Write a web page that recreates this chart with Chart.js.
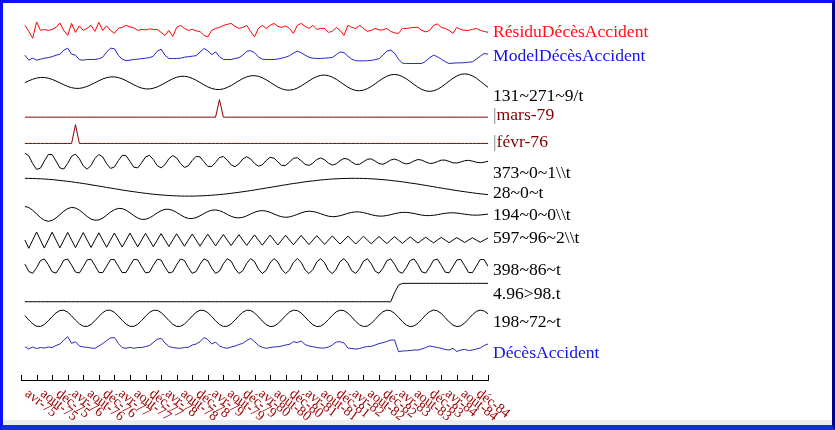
<!DOCTYPE html>
<html>
<head>
<meta charset="utf-8">
<script src="https://cdn.jsdelivr.net/npm/chart.js@4"></script>
<style>
  body { margin: 0; background: #fff; }
  #wrap { position: relative; width: 835px; height: 430px; overflow: hidden; }
  #chart { position: absolute; left: 0; top: 0; }
  #strip { position: absolute; left: 3px; right: 3px; bottom: 5px; height: 5px; background: #ececec; }
  #frame { position: absolute; left: 0; top: 0; width: 835px; height: 430px; box-sizing: border-box; pointer-events: none;
    border-left: 3px solid #1010f8; border-top: 3px solid #1010e8; border-right: 3px solid #00008b; border-bottom: 5px solid #1030d0; }
</style>
</head>
<body>
<div id="wrap">
  <canvas id="chart" width="835" height="430"></canvas>
  <div id="strip"></div>
  <div id="frame"></div>
</div>
<script>
// Series names, top to bottom (shown at the right end of each band)
const seriesNames = ['RésiduDécèsAccident', 'ModelDécèsAccident', '131~271~9/t', '|mars-79', '|févr-76',
  '373~0~1\\\\t', '28~0~t', '194~0~0\\\\t', '597~96~2\\\\t', '398~86~t', '4.96>98.t', '198~72~t', 'DécèsAccident'];

// x axis tick labels (every 4 months, first one on avr-75)
const tickLabels = ['avr-75', 'août-75', 'déc-75', 'avr-76', 'août-76', 'déc-76', 'avr-77', 'août-77', 'déc-77',
  'avr-78', 'août-78', 'déc-78', 'avr-79', 'août-79', 'déc-79', 'avr-80', 'août-80', 'déc-80',
  'avr-81', 'août-81', 'déc-81', 'avr-82', 'août-82', 'déc-82', 'avr-83', 'août-83', 'déc-83',
  'avr-84', 'août-84', 'déc-84'];

// monthly values, janv-75 .. déc-84
const residu = [15.2, 9, 2.2, 18.5, 10, 11, 10, 11, 13, 17.5,
  10, 5, 17, 8, 14.5, 10, 12, 15, 9, 18,
  10, 14.5, 10, 7, 12, 13, 15, 13.5, 12.5, 10,
  11, 10.5, 11.5, 11, 11, 8, 5, 10, 4, 13,
  15, 12, 10, 11, 9.5, 9, 5, 3.5, 10, 12,
  13, 15, 16, 17, 14, 12, 13, 15, 9, 3.5,
  12, 15, 12, 15, 17, 14, 13, 14.5, 12, 7,
  15, 17, 14, 12, 15, 11, 12, 12, 8, 9,
  13, 10, 5, 15, 13, 12, 15, 12, 9, 10,
  12, 10.5, 10.5, 12, 9, 7.5, 7, 12, 12, 12.5,
  13, 13, 10, 8.5, 10, 15, 16.5, 13, 12, 10,
  7, 13, 11, 10, 10, 11, 12, 10, 9, 8];

const modele = [11.6, 6.6, 8.6, 6.6, 7.6, 8.6, 9.1, 10.1, 11.6, 12.6,
  16.6, 18.6, 12.6, 11.6, 7.1, 6.6, 7.3, 7.3, 7.3, 8.1,
  9.6, 14.6, 18.6, 18.1, 11.6, 7.6, 6.1, 6.6, 7.3, 7.6,
  8.1, 8.6, 9.1, 10.6, 15.6, 17.6, 11.6, 8.3, 8.3, 8.3,
  8.6, 9.6, 10.1, 10.6, 11.1, 14.6, 18.3, 16.1, 12.1, 14.9,
  10.1, 7.3, 7.3, 7.3, 8.3, 9.1, 11.6, 15.6, 16.1, 14.1,
  9.9, 7.6, 7.3, 7.3, 7.3, 7.8, 8.6, 9.6, 11.1, 13.6,
  15.6, 14.1, 11.6, 9.6, 8.6, 8.3, 8.3, 8.6, 8.9, 9.3,
  12.1, 14.9, 14.1, 10.6, 7.6, 6.1, 5.9, 5.9, 6.1, 6.4,
  7.1, 8.1, 11.6, 15.6, 16.6, 13.6, 7.6, 3.6, 3.3, 3.3,
  3.3, 3.3, 3.3, 5.6, 9.1, 11.6, 10.1, 7.6, 5.1, 3.3,
  3.6, 3.9, 3.9, 4.1, 4.6, 4.9, 7.6, 10.6, 13.3, 12.6];

const comp131 = [0.2, 2.0, 3.5, 4.7, 5.3, 5.3, 4.6, 3.4, 1.7, -0.1,
  -2.0, -3.7, -4.9, -5.6, -5.6, -4.9, -3.6, -1.9, 0.1, 2.0,
  3.8, 5.1, 5.8, 5.9, 5.2, 3.9, 2.1, 0.1, -2.0, -3.9,
  -5.3, -6.1, -6.2, -5.5, -4.2, -2.3, -0.2, 2.0, 4.0, 5.5,
  6.4, 6.5, 5.8, 4.4, 2.5, 0.3, -2.0, -4.1, -5.7, -6.6,
  -6.8, -6.1, -4.7, -2.8, -0.4, 2.0, 4.2, 5.9, 6.9, 7.1,
  6.5, 5.0, 3.0, 0.6, -2.0, -4.3, -6.1, -7.2, -7.4, -6.8,
  -5.3, -3.2, -0.7, 1.9, 4.3, 6.2, 7.4, 7.7, 7.1, 5.6,
  3.5, 0.9, -1.8, -4.4, -6.4, -7.7, -8.0, -7.4, -5.9, -3.7,
  -1.1, 1.8, 4.4, 6.5, 7.9, 8.3, 7.8, 6.2, 4.0, 1.2,
  -1.7, -4.4, -6.7, -8.1, -8.6, -8.1, -6.6, -4.3, -1.4, 1.6,
  4.5, 6.8, 8.4, 8.9, 8.4, 6.9, 4.6, 1.6, -1.5, -4.5];

const mars79 = [0, 0, 0, 0, 0, 0, 0, 0, 0, 0,
  0, 0, 0, 0, 0, 0, 0, 0, 0, 0,
  0, 0, 0, 0, 0, 0, 0, 0, 0, 0,
  0, 0, 0, 0, 0, 0, 0, 0, 0, 0,
  0, 0, 0, 0, 0, 0, 0, 0, 0, 0,
  1, 0, 0, 0, 0, 0, 0, 0, 0, 0,
  0, 0, 0, 0, 0, 0, 0, 0, 0, 0,
  0, 0, 0, 0, 0, 0, 0, 0, 0, 0,
  0, 0, 0, 0, 0, 0, 0, 0, 0, 0,
  0, 0, 0, 0, 0, 0, 0, 0, 0, 0,
  0, 0, 0, 0, 0, 0, 0, 0, 0, 0,
  0, 0, 0, 0, 0, 0, 0, 0, 0, 0];

const fevr76 = [0, 0, 0, 0, 0, 0, 0, 0, 0, 0,
  0, 0, 0, 1, 0, 0, 0, 0, 0, 0,
  0, 0, 0, 0, 0, 0, 0, 0, 0, 0,
  0, 0, 0, 0, 0, 0, 0, 0, 0, 0,
  0, 0, 0, 0, 0, 0, 0, 0, 0, 0,
  0, 0, 0, 0, 0, 0, 0, 0, 0, 0,
  0, 0, 0, 0, 0, 0, 0, 0, 0, 0,
  0, 0, 0, 0, 0, 0, 0, 0, 0, 0,
  0, 0, 0, 0, 0, 0, 0, 0, 0, 0,
  0, 0, 0, 0, 0, 0, 0, 0, 0, 0,
  0, 0, 0, 0, 0, 0, 0, 0, 0, 0,
  0, 0, 0, 0, 0, 0, 0, 0, 0, 0];

const comp373 = [8.4, 5.8, -2.0, -7.8, -6.5, 0.6, 7.1, 7.1, 0.6, -6.3,
  -7.4, -1.8, 5.3, 7.5, 2.9, -4.3, -7.5, -3.9, 3.2, 7.2,
  4.7, -2.0, -6.8, -5.4, 0.9, 6.3, 5.9, 0.2, -5.6, -6.2,
  -1.2, 4.7, 6.3, 2.1, -3.9, -6.3, -3.0, 2.9, 6.1, 3.7,
  -2.0, -5.8, -4.2, 1.1, 5.3, 4.7, -0.1, -4.7, -4.9, -0.7,
  4.1, 5.1, 1.5, -3.3, -5.1, -2.2, 2.6, 4.9, 2.7, -1.8,
  -4.6, -3.2, 1.1, 4.3, 3.5, -0.3, -3.8, -3.8, -0.3, 3.3,
  3.9, 0.9, -2.7, -3.8, -1.5, 2.1, 3.7, 1.9, -1.5, -3.5,
  -2.2, 1.0, 3.2, 2.5, -0.4, -2.8, -2.6, -0.1, 2.4, 2.7,
  0.5, -2.0, -2.6, -0.9, 1.6, 2.5, 1.2, -1.1, -2.3, -1.4,
  0.7, 2.1, 1.5, -0.4, -1.8, -1.5, 0.0, 1.5, 1.5, 0.2,
  -1.2, -1.4, -0.4, 0.9, 1.3, 0.5, -0.6, -1.1, -0.6, 0.4];

const comp28 = [8.9, 8.85, 8.75, 8.6, 8.4, 8.2, 7.9, 7.6, 7.2, 6.8,
  6.3, 5.9, 5.4, 4.8, 4.3, 3.7, 3.1, 2.4, 1.8, 1.1,
  0.5, -0.2, -0.8, -1.5, -2.1, -2.8, -3.4, -4.0, -4.5, -5.1,
  -5.6, -6.1, -6.6, -7.0, -7.4, -7.7, -8.0, -8.3, -8.5, -8.7,
  -8.8, -8.9, -8.9, -8.9, -8.8, -8.7, -8.5, -8.3, -8.0, -7.7,
  -7.4, -7.0, -6.6, -6.1, -5.6, -5.1, -4.5, -4.0, -3.4, -2.8,
  -2.1, -1.5, -0.8, -0.2, 0.5, 1.1, 1.8, 2.4, 3.1, 3.7,
  4.2, 4.8, 5.4, 5.9, 6.3, 6.8, 7.2, 7.6, 7.9, 8.2,
  8.4, 8.6, 8.75, 8.85, 8.9, 8.9, 8.85, 8.75, 8.6, 8.4,
  8.2, 7.9, 7.6, 7.2, 6.8, 6.3, 5.9, 5.4, 4.8, 4.2,
  3.7, 3.1, 2.4, 1.8, 1.1, 0.5, -0.2, -0.8, -1.5, -2.1,
  -2.8, -3.4, -4.0, -4.5, -5.1, -5.6, -6.1, -6.6, -7.0, -7.4];

const comp194 = [7.6, 6.6, 3.8, 0.2, -3.4, -6.1, -7.2, -6.4, -3.9, -0.5,
  2.9, 5.5, 6.7, 6.1, 4.0, 0.9, -2.4, -5.0, -6.2, -5.8,
  -4.0, -1.1, 2.0, 4.4, 5.7, 5.5, 3.9, 1.3, -1.5, -3.9,
  -5.3, -5.2, -3.8, -1.5, 1.2, 3.4, 4.8, 4.8, 3.7, 1.6,
  -0.8, -3.0, -4.3, -4.5, -3.5, -1.7, 0.5, 2.6, 3.9, 4.2,
  3.4, 1.8, -0.3, -2.2, -3.5, -3.8, -3.2, -1.8, 0.1, 1.8,
  3.0, 3.5, 3.0, 1.8, 0.1, -1.5, -2.7, -3.2, -2.8, -1.7,
  -0.3, 1.2, 2.4, 2.9, 2.6, 1.7, 0.4, -1.0, -2.1, -2.6,
  -2.4, -1.6, -0.5, 0.8, 1.7, 2.2, 2.2, 1.5, 0.5, -0.6,
  -1.5, -2.0, -2.0, -1.4, -0.6, 0.4, 1.2, 1.7, 1.7, 1.3,
  0.6, -0.3, -1.0, -1.5, -1.5, -1.2, -0.6, 0.2, 0.8, 1.2,
  1.3, 1.0, 0.5, -0.1, -0.6, -1.0, -1.1, -0.9, -0.5, 0.0];

const comp597 = [0, -8.2, 0, 8.1, 0, -8.0, 0, 7.9, 0, -7.8,
  0, 7.7, 0, -7.6, 0, 7.5, 0, -7.4, 0, 7.3,
  0, -7.2, 0, 7.1, 0, -7.0, 0, 6.9, 0, -6.8,
  0, 6.7, 0, -6.6, 0, 6.5, 0, -6.4, 0, 6.3,
  0, -6.2, 0, 6.1, 0, -6.0, 0, 5.9, 0, -5.8,
  0, 5.6, 0, -5.5, 0, 5.4, 0, -5.3, 0, 5.2,
  0, -5.1, 0, 5.0, 0, -4.9, 0, 4.8, 0, -4.7,
  0, 4.6, 0, -4.5, 0, 4.4, 0, -4.3, 0, 4.2,
  0, -4.1, 0, 4.0, 0, -3.9, 0, 3.8, 0, -3.7,
  0, 3.6, 0, -3.5, 0, 3.4, 0, -3.3, 0, 3.2,
  0, -3.0, 0, 2.9, 0, -2.8, 0, 2.7, 0, -2.6,
  0, 2.5, 0, -2.4, 0, 2.3, 0, -2.2, 0, 2.1];

const comp398 = [1.9, -5.4, -7.2, -1.7, 5.5, 7.1, 1.5, -5.7, -7.0, -1.2,
  5.9, 7.0, 1.0, -6.0, -6.9, -0.7, 6.2, 6.8, 0.5, -6.3,
  -6.6, -0.2, 6.4, 6.5, -0.1, -6.6, -6.4, 0.3, 6.7, 6.2,
  -0.5, -6.8, -6.1, 0.8, 6.9, 6.0, -1.0, -7.0, -5.8, 1.3,
  7.1, 5.6, -1.5, -7.2, -5.5, 1.8, 7.2, 5.3, -2.0, -7.3,
  -5.1, 2.3, 7.3, 4.9, -2.5, -7.4, -4.7, 2.7, 7.4, 4.5,
  -3.0, -7.5, -4.3, 3.2, 7.5, 4.1, -3.4, -7.5, -3.9, 3.7,
  7.5, 3.7, -3.9, -7.5, -3.5, 4.1, 7.5, 3.3, -4.3, -7.5,
  -3.0, 4.5, 7.4, 2.8, -4.7, -7.4, -2.6, 4.9, 7.4, 2.3,
  -5.1, -7.3, -2.1, 5.3, 7.2, 1.8, -5.4, -7.2, -1.6, 5.6,
  7.1, 1.4, -5.8, -7.0, -1.1, 5.9, 6.9, 0.8, -6.1, -6.8,
  -0.6, 6.2, 6.7, 0.4, -6.4, -6.6, -0.1, 6.5, 6.5, -0.2];

const step496 = [0, 0, 0, 0, 0, 0, 0, 0, 0, 0,
  0, 0, 0, 0, 0, 0, 0, 0, 0, 0,
  0, 0, 0, 0, 0, 0, 0, 0, 0, 0,
  0, 0, 0, 0, 0, 0, 0, 0, 0, 0,
  0, 0, 0, 0, 0, 0, 0, 0, 0, 0,
  0, 0, 0, 0, 0, 0, 0, 0, 0, 0,
  0, 0, 0, 0, 0, 0, 0, 0, 0, 0,
  0, 0, 0, 0, 0, 0, 0, 0, 0, 0,
  0, 0, 0, 0, 0, 0, 0, 0, 0, 0,
  0, 0, 0, 0, 0, 0.5, 0.9, 1, 1, 1,
  1, 1, 1, 1, 1, 1, 1, 1, 1, 1,
  1, 1, 1, 1, 1, 1, 1, 1, 1, 1];

const comp198 = [2.7, -1.6, -5.5, -7.9, -8.1, -6.2, -2.6, 1.7, 5.5, 7.9,
  8.1, 6.2, 2.5, -1.8, -5.6, -7.9, -8.1, -6.1, -2.4, 1.9,
  5.7, 8.0, 8.1, 6.0, 2.3, -2.0, -5.8, -8.0, -8.0, -5.9,
  -2.2, 2.1, 5.9, 8.0, 8.0, 5.8, 2.1, -2.2, -5.9, -8.1,
  -8.0, -5.8, -2.0, 2.3, 6.0, 8.1, 7.9, 5.7, 1.9, -2.5,
  -6.1, -8.1, -7.9, -5.6, -1.8, 2.6, 6.2, 8.1, 7.9, 5.5,
  1.6, -2.7, -6.2, -8.2, -7.8, -5.4, -1.5, 2.8, 6.3, 8.2,
  7.8, 5.3, 1.4, -2.9, -6.4, -8.2, -7.8, -5.2, -1.3, 3.0,
  6.5, 8.2, 7.7, 5.2, 1.2, -3.1, -6.5, -8.2, -7.7, -5.1,
  -1.1, 3.2, 6.6, 8.2, 7.6, 5.0, 1.0, -3.3, -6.7, -8.3,
  -7.6, -4.9, -0.9, 3.4, 6.7, 8.3, 7.5, 4.8, 0.7, -3.5,
  -6.8, -8.3, -7.5, -4.7, -0.6, 3.6, 6.9, 8.3, 7.4, 4.6];

const deces = [10.3, 8, 10, 8.5, 9.5, 9, 10, 9.5, 11.5, 13,
  17, 20.3, 13.7, 15.3, 11, 10, 9.7, 9, 8.7, 11,
  13.5, 16.5, 19, 19.5, 13.7, 9.5, 8.7, 9.7, 8.7, 9.5,
  9.5, 10.5, 11.5, 14.5, 17.7, 18.7, 14, 10.5, 9.5, 9,
  8.7, 9.5, 9.7, 12, 13, 15.3, 19.5, 17.5, 13, 15,
  11, 9.5, 8.7, 10, 11, 12.5, 13.7, 16.5, 18.7, 15.5,
  11.5, 9.7, 8.7, 9.5, 10, 10.3, 11, 12, 12.7, 15.3,
  14.5, 16, 12.5, 11, 10.3, 9.5, 9, 9, 10, 12,
  15, 15.3, 14, 9, 8.5, 8, 8.5, 9.7, 10.5, 10.7,
  12, 13.5, 14.3, 15.7, 17, 17, 5.3, 6, 6.2, 6.5,
  7, 7, 8, 9.5, 11, 10.3, 9.5, 8.7, 7.5, 7,
  8.7, 5.5, 7, 7.7, 6.5, 7, 8, 9, 11.5, 13];

const seriesValues = [residu, modele, comp131, mars79, fevr76, comp373, comp28,
  comp194, comp597, comp398, step496, comp198, deces];

// styles
const lineColors = ['#ff0000', '#2222cc', '#000000', '#800000', '#800000', '#000000', '#000000',
  '#000000', '#000000', '#000000', '#000000', '#000000', '#2828b8'];
const labelColors = ['#ff1010', '#1414e6', '#000000', '#800000', '#800000', '#000000', '#000000',
  '#000000', '#000000', '#000000', '#000000', '#000000', '#1414e6'];
// y range of each band
const bandRange = [[0, 26.4], [0, 26.4], [-10.4, 16], [-0.137, 1.371], [-0.133, 1.271],
  [-10.7, 15.7], [-11.5, 14.9], [-11, 15.4], [-11.4, 15], [-11.8, 14.6],
  [-0.136, 1.299], [-12.3, 14.1], [0, 26.4]];
// baseline of the name relative to the band centre
const labelShift = [10.3, 7.6, 21.5, 13.8, 14.1, 19.3, 12.5, 8.2, 5.1, 10.4, 8.3, 9.3, 14.5];

const datasets = seriesValues.map((vals, k) => ({
  label: seriesNames[k],
  data: vals.map((v, i) => ({x: i + 1, y: v})),
  yAxisID: 'y' + k,
  borderColor: lineColors[k],
  borderWidth: 1,
  pointRadius: 0,
  tension: 0,
  fill: false
}));

const scales = {
  x: {
    type: 'linear', min: 0, max: 120,
    ticks: {stepSize: 4, display: false},
    grid: {drawOnChartArea: false, drawTicks: false},
    border: {display: true, color: '#000', width: 1}
  }
};
seriesNames.forEach((n, k) => {
  scales['y' + k] = {
    type: 'linear', position: 'right', stack: 'bands', stackWeight: 1, display: false,
    min: bandRange[k][0], max: bandRange[k][1]
  };
});
// empty space between the last band and the x axis
scales.ygap = {type: 'linear', position: 'right', stack: 'bands', stackWeight: 0.871, display: false, min: 0, max: 1};

const labelPlugin = {
  id: 'bandLabels',
  afterDraw(chart) {
    const ctx = chart.ctx;
    const area = chart.chartArea;
    ctx.save();
    ctx.font = '17.6px "Liberation Serif"';
    ctx.textAlign = 'left';
    ctx.textBaseline = 'alphabetic';
    seriesNames.forEach((name, k) => {
      const sc = chart.scales['y' + k];
      const y = (sc.top + sc.bottom) / 2 + labelShift[k];
      let x = area.right + 5;
      if (name.startsWith('|')) {
        ctx.fillStyle = '#808080';
        ctx.fillText('|', x, y);
        x += ctx.measureText('|').width;
        name = name.slice(1);
      }
      ctx.fillStyle = labelColors[k];
      ctx.fillText(name, x, y);
    });

    // tick marks point up from the axis line
    const xs = chart.scales.x;
    ctx.strokeStyle = '#000';
    ctx.lineWidth = 1;
    ctx.beginPath();
    xs.ticks.forEach(t => {
      const px = Math.round(xs.getPixelForValue(t.value)) + 0.5;
      ctx.moveTo(px, area.bottom - 5);
      ctx.lineTo(px, area.bottom);
    });
    ctx.stroke();

    // slanted month labels
    ctx.font = '14px "Liberation Serif"';
    ctx.fillStyle = '#990000';
    ctx.textBaseline = 'middle';
    xs.ticks.forEach(t => {
      const idx = t.value / 4 - 1;
      if (idx < 0 || idx >= tickLabels.length) return;
      const px = xs.getPixelForValue(t.value);
      ctx.save();
      ctx.translate(px - 10, area.bottom + 12);
      ctx.rotate(38 * Math.PI / 180);
      ctx.fillText(tickLabels[idx], 0, 0);
      ctx.restore();
    });
    ctx.restore();
  }
};

const myChart = new Chart(document.getElementById('chart'), {
  type: 'line',
  data: {datasets: datasets},
  options: {
    responsive: false,
    animation: false,
    events: [],
    layout: {padding: {left: 21, right: 347, top: 14, bottom: 50}},
    plugins: {legend: {display: false}, tooltip: {enabled: false}},
    scales: scales
  },
  plugins: [labelPlugin]
});
</script>
</body>
</html>
